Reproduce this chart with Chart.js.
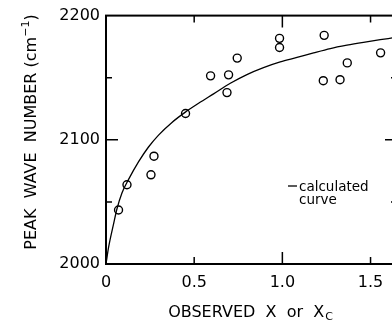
<!DOCTYPE html>
<html>
<head>
<meta charset="utf-8">
<script src="https://cdn.jsdelivr.net/npm/chart.js@4"></script>
<style>
  html, body { margin: 0; padding: 0; background: #fff; overflow: hidden; }
  #wrap { position: relative; width: 410px; height: 322px; }
</style>
</head>
<body>
<div id="wrap"><canvas id="chart"></canvas></div>
<script>
// observed points
const obsX = [0.071, 0.119, 0.255, 0.272, 0.451, 0.593, 0.695, 0.686, 0.744, 0.984, 0.984, 1.237, 1.232, 1.327, 1.368, 1.557]
const obsY = [2043.5, 2063.8, 2071.8, 2086.8, 2121.2, 2151.5, 2152.3, 2138.0, 2165.8, 2181.7, 2174.3, 2184.1, 2147.6, 2148.4, 2161.9, 2170.0]

// calculated curve
const curveX = [0, 0.015, 0.043, 0.062, 0.091, 0.128, 0.185, 0.241, 0.298, 0.374, 0.450, 0.525, 0.610, 0.705, 0.799, 0.893, 0.988, 1.083, 1.177, 1.272, 1.366, 1.460, 1.555, 1.623]
const curveY = [2000, 2013.7, 2032.3, 2044.3, 2057.4, 2068.1, 2082.4, 2094.2, 2103.8, 2114.0, 2122.3, 2129.4, 2137.0, 2145.5, 2152.5, 2158.1, 2162.7, 2166.3, 2170.0, 2173.5, 2176.2, 2178.5, 2180.6, 2182.0]

const xTicks = [0, 0.5, 1.0, 1.5]
const yTicks = [2000, 2100, 2200]
const yMinor = [2050, 2150]

const FONT = '"DejaVu Sans", sans-serif'

// frame, inward ticks, axis titles and the legend note
const decor = {
  id: 'decor',
  afterDraw(chart) {
    const ctx = chart.ctx
    const a = chart.chartArea
    const xs = chart.scales.x
    const ys = chart.scales.y
    ctx.save()
    ctx.strokeStyle = '#000'
    ctx.lineWidth = 2
    ctx.strokeRect(a.left, a.top, a.right - a.left, a.bottom - a.top)

    ctx.lineWidth = 1.5
    ctx.beginPath()
    xTicks.forEach(v => {
      if (v === 0) return
      const px = xs.getPixelForValue(v)
      const len = v % 1 === 0 ? 12 : 7
      ctx.moveTo(px, a.bottom); ctx.lineTo(px, a.bottom - len)
      ctx.moveTo(px, a.top); ctx.lineTo(px, a.top + len)
    })
    yTicks.concat(yMinor).forEach(v => {
      if (v === 2000 || v === 2200) return
      const py = ys.getPixelForValue(v)
      const len = v % 100 === 0 ? 12 : 6
      ctx.moveTo(a.left, py); ctx.lineTo(a.left + len, py)
      ctx.moveTo(a.right, py); ctx.lineTo(a.right - len, py)
    })
    ctx.stroke()

    // legend note
    ctx.lineWidth = 1.3
    ctx.beginPath()
    ctx.moveTo(288, 186); ctx.lineTo(297, 186)
    ctx.stroke()
    ctx.fillStyle = '#000'
    ctx.font = '13.5px ' + FONT
    ctx.textAlign = 'left'
    ctx.textBaseline = 'alphabetic'
    ctx.fillText('calculated', 299, 191)
    ctx.fillText('curve', 299, 204)

    // x title with subscript
    ctx.font = '16px ' + FONT
    const main = 'OBSERVED  X  or  X'
    const w = ctx.measureText(main).width
    ctx.font = '11px ' + FONT
    const ws = ctx.measureText('C').width
    let x0 = 250 - (w + ws) / 2
    ctx.font = '16px ' + FONT
    ctx.fillText(main, x0, 317)
    ctx.font = '11px ' + FONT
    ctx.fillText('C', x0 + w + 1, 320)

    // y title with superscript
    ctx.translate(36, 132)
    ctx.rotate(-Math.PI / 2)
    ctx.font = '16px ' + FONT
    const t1 = 'PEAK  WAVE  NUMBER (cm'
    const sup = '\u22121'
    const t2 = ')'
    const w1 = ctx.measureText(t1).width
    ctx.font = '11px ' + FONT
    const w2 = ctx.measureText(sup).width
    ctx.font = '16px ' + FONT
    const w3 = ctx.measureText(t2).width
    const start = -(w1 + w2 + w3) / 2
    ctx.fillText(t1, start, 0)
    ctx.font = '11px ' + FONT
    ctx.fillText(sup, start + w1, -7)
    ctx.font = '16px ' + FONT
    ctx.fillText(t2, start + w1 + w2, 0)
    ctx.restore()
  }
}

new Chart(document.getElementById('chart'), {
  type: 'scatter',
  data: {
    datasets: [
      {
        label: 'calculated curve',
        data: curveX.map((x, i) => ({ x: x, y: curveY[i] })),
        showLine: true,
        borderColor: '#000',
        borderWidth: 1.3,
        pointRadius: 0,
        cubicInterpolationMode: 'monotone'
      },
      {
        label: 'observed',
        data: obsX.map((x, i) => ({ x: x, y: obsY[i] })),
        pointStyle: 'circle',
        pointRadius: 4,
        pointBorderWidth: 1.4,
        pointBorderColor: '#000',
        pointBackgroundColor: '#fff'
      }
    ]
  },
  options: {
    responsive: true,
    maintainAspectRatio: false,
    animation: false,
    devicePixelRatio: 1,
    layout: { padding: { top: 12, right: 13, bottom: 0, left: 0 } },
    plugins: {
      legend: { display: false },
      tooltip: { enabled: false }
    },
    scales: {
      x: {
        type: 'linear',
        min: 0,
        max: 1.65,
        afterFit: s => { s.height = 58 },
        afterBuildTicks: s => { s.ticks = xTicks.map(v => ({ value: v })) },
        grid: { display: false, drawTicks: false },
        border: { display: false },
        ticks: {
          color: '#000',
          padding: 9,
          maxRotation: 0,
          font: { family: FONT, size: 16 },
          callback: v => v === 0 ? '0' : v.toFixed(1)
        }
      },
      y: {
        min: 2000,
        max: 2200,
        afterFit: s => { s.width = 106 },
        afterBuildTicks: s => { s.ticks = yTicks.map(v => ({ value: v })) },
        grid: { display: false, drawTicks: false },
        border: { display: false },
        ticks: {
          color: '#000',
          padding: 6,
          font: { family: FONT, size: 16 },
          callback: v => String(v)
        }
      }
    }
  },
  plugins: [decor]
})
</script>
</body>
</html>
